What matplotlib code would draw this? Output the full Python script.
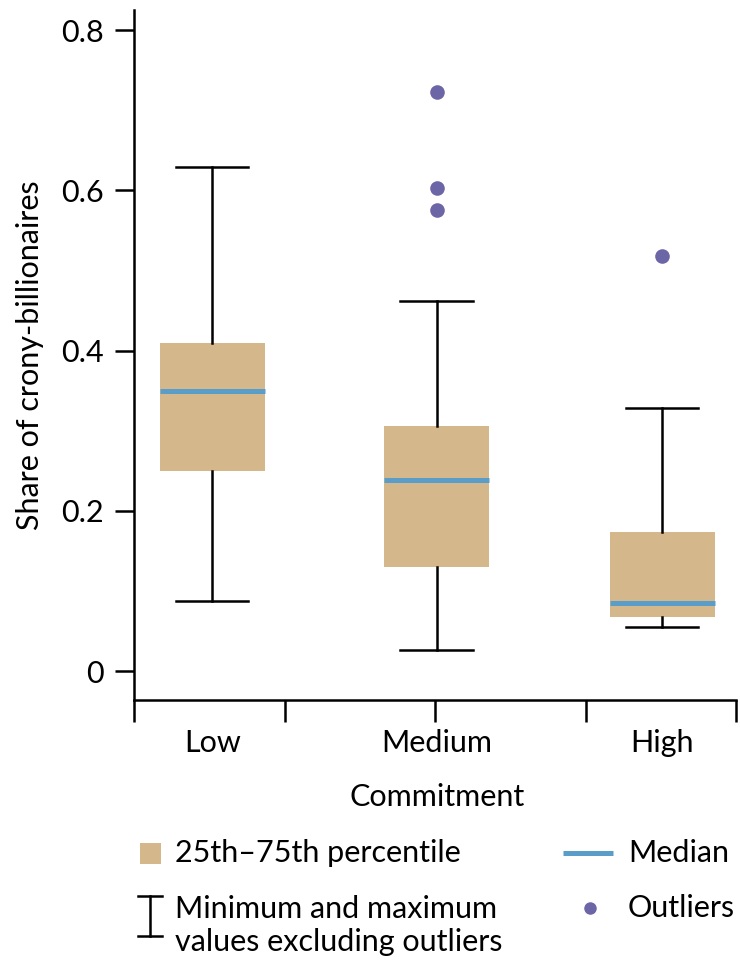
import matplotlib
matplotlib.use("Agg")
import matplotlib.pyplot as plt
from matplotlib.lines import Line2D
from matplotlib.patches import Rectangle

categories = ["Low", "Medium", "High"]
whislo = [0.088, 0.026, 0.055]
q1 = [0.250, 0.130, 0.068]
med = [0.350, 0.239, 0.085]
q3 = [0.409, 0.306, 0.174]
whishi = [0.629, 0.462, 0.328]
outliers = [[], [0.723, 0.603, 0.575], [0.518]]

positions = [0.52, 2.01, 3.51]
tan = "#D4B88C"
blue = "#5A9DC8"
purple = "#6C65A6"
FS = 22

plt.rcParams['font.family'] = ['Lato', 'DejaVu Sans']
fig = plt.figure(figsize=(7.4, 9.69), dpi=100)
ax = fig.add_axes([134/740, 1-700/969, (736-134)/740, 690/969])

stats = []
for i, c in enumerate(categories):
    stats.append(dict(label=c, whislo=whislo[i], q1=q1[i], med=med[i], q3=q3[i],
                      whishi=whishi[i], fliers=outliers[i]))

ax.bxp(stats, positions=positions, widths=0.7, patch_artist=True, showfliers=True,
       boxprops=dict(facecolor=tan, edgecolor="none"),
       medianprops=dict(color=blue, linewidth=3.6, solid_capstyle="butt"),
       whiskerprops=dict(color="black", linewidth=1.8),
       capprops=dict(color="black", linewidth=1.8),
       capwidths=0.48,
       flierprops=dict(marker="o", markerfacecolor=purple, markeredgecolor="none", markersize=10.5))

ax.set_xlim(0, 4)
ax.set_ylim(-0.036, 0.825)
ax.set_yticks([0, 0.2, 0.4, 0.6, 0.8])
ax.set_yticklabels(["0", "0.2", "0.4", "0.6", "0.8"])
ax.set_xticks([0, 1, 2, 3, 4])
ax.set_xticklabels([])
ax.set_xticks(positions, minor=True)
ax.set_xticklabels(categories, minor=True)
ax.tick_params(axis="x", which="major", length=16, width=1.8, direction="out")
ax.tick_params(axis="x", which="minor", length=0, pad=21, labelsize=FS)
ax.tick_params(axis="y", length=14, width=1.8, labelsize=FS, pad=8)
for s in ["top", "right"]:
    ax.spines[s].set_visible(False)
for s in ["left", "bottom"]:
    ax.spines[s].set_linewidth(1.8)

ax.set_ylabel("Share of crony-billionaires", fontsize=FS, labelpad=12)
fig.text(437/740, 1-797/969, "Commitment", ha="center", va="center", fontsize=FS)

# legend
fig.patches.append(Rectangle((140/740, 1-864/969), 21/740, 21/969, transform=fig.transFigure,
                             facecolor=tan, edgecolor="none"))
fig.text(175/740, 1-853/969, "25th\u201375th percentile", ha="left", va="center", fontsize=FS)
fig.lines.append(Line2D([563/740, 613/740], [1-853/969]*2, transform=fig.transFigure,
                        color=blue, linewidth=3.6, solid_capstyle="butt"))
fig.text(628/740, 1-853/969, "Median", ha="left", va="center", fontsize=FS)
fig.lines.append(Line2D([150/740, 150/740], [1-896/969, 1-936/969], transform=fig.transFigure,
                        color="black", linewidth=1.8))
for yy in (896, 936):
    fig.lines.append(Line2D([138/740, 162/740], [1-yy/969]*2, transform=fig.transFigure,
                            color="black", linewidth=1.8))
fig.text(175/740, 1-909/969, "Minimum and maximum", ha="left", va="center", fontsize=FS)
fig.text(175/740, 1-942/969, "values excluding outliers", ha="left", va="center", fontsize=FS)
fig.lines.append(Line2D([590/740], [1-908/969], transform=fig.transFigure, marker="o",
                        markersize=9, markerfacecolor=purple, markeredgecolor="none", linestyle="none"))
fig.text(628/740, 1-908/969, "Outliers", ha="left", va="center", fontsize=FS)

fig.savefig("out.png", dpi=100)
